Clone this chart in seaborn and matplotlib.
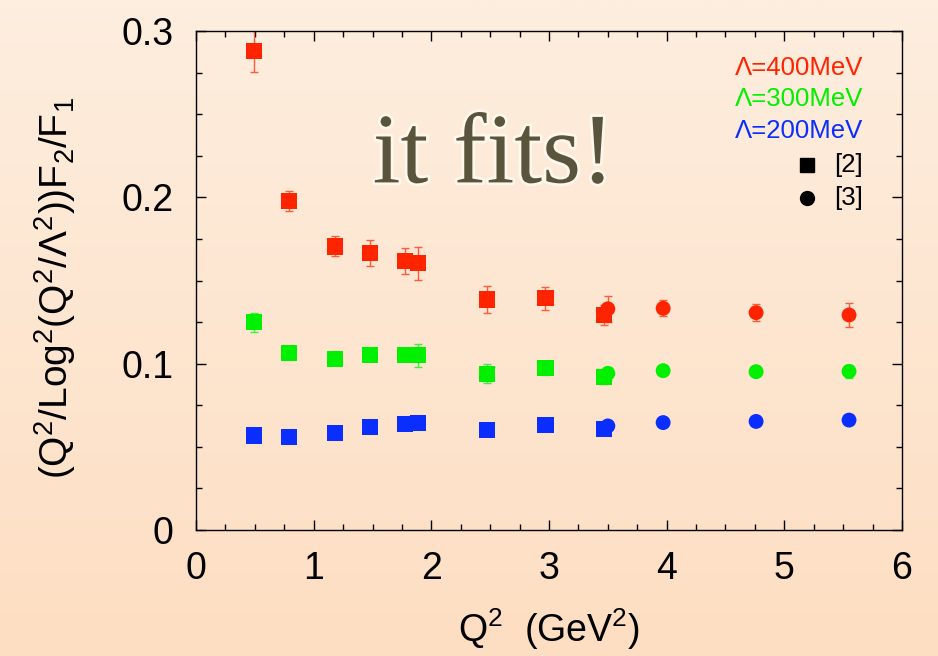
import numpy as np
import pandas as pd
import matplotlib
matplotlib.use('Agg')
import matplotlib.pyplot as plt
import matplotlib.patheffects as pe
import seaborn as sns
from matplotlib.colors import LinearSegmentedColormap

# ── Data ──────────────────────────────────────────────────────────
q2_sq = [0.49, 0.79, 1.18, 1.48, 1.775, 1.885, 2.47, 2.97, 3.47]
q2_ci = [3.50, 3.97, 4.76, 5.55]

r400_sq = [0.288, 0.198, 0.1705, 0.1665, 0.1617, 0.1604, 0.1386, 0.1393, 0.1295]
e400_sq = [0.0125, 0.006, 0.006, 0.008, 0.0077, 0.010, 0.008, 0.007, 0.006]
r400_ci = [0.133, 0.1333, 0.1307, 0.1293]
e400_ci = [0.008, 0.0048, 0.005, 0.0071]

r300_sq = [0.1249, 0.1066, 0.1026, 0.105, 0.105, 0.105, 0.094, 0.0972, 0.0918]
e300_sq = [0.0057, 0.002, 0.002, 0.002, 0.003, 0.0067, 0.0057, 0.004, 0.004]
r300_ci = [0.0942, 0.0958, 0.0952, 0.0954]
e300_ci = [0.004, 0.002, 0.002, 0.004]

r200_sq = [0.0568, 0.056, 0.0584, 0.062, 0.0639, 0.0645, 0.0602, 0.0633, 0.0608]
e200_sq = [0.001] * 9
r200_ci = [0.0626, 0.0646, 0.0653, 0.0661]
e200_ci = [0.001] * 4

lam_labels = ['Λ=400MeV', 'Λ=300MeV', 'Λ=200MeV']
colors = {'Λ=400MeV': '#FF2400', 'Λ=300MeV': '#00F000', 'Λ=200MeV': '#0A2EFF'}
err_colors = {'Λ=400MeV': '#FF5A3A', 'Λ=300MeV': '#3CF03C', 'Λ=200MeV': '#3A5AFF'}

rows = []
for lam, ys, es, yc, ec in [
        ('Λ=400MeV', r400_sq, e400_sq, r400_ci, e400_ci),
        ('Λ=300MeV', r300_sq, e300_sq, r300_ci, e300_ci),
        ('Λ=200MeV', r200_sq, e200_sq, r200_ci, e200_ci)]:
    for x, y, e in zip(q2_sq, ys, es):
        rows.append((lam, '[2]', x, y, e))
    for x, y, e in zip(q2_ci, yc, ec):
        rows.append((lam, '[3]', x, y, e))
df = pd.DataFrame(rows, columns=['lam', 'ref', 'q2', 'ratio', 'err'])

# ── Style ─────────────────────────────────────────────────────────
sns.set_theme(style='ticks')
plt.rcParams['font.family'] = ['Liberation Sans', 'DejaVu Sans']
plt.rcParams['mathtext.fontset'] = 'custom'
plt.rcParams['mathtext.rm'] = 'Liberation Sans'
for k in ['text.color', 'axes.labelcolor', 'xtick.color', 'ytick.color']:
    plt.rcParams[k] = 'black'

fig = plt.figure(figsize=(9.38, 6.56), dpi=100)

# background gradient
bg = fig.add_axes([0, 0, 1, 1], zorder=-10)
cmap = LinearSegmentedColormap.from_list('peach', ['#FEEEDF', '#FDDEC2'])
bg.imshow(np.linspace(0, 1, 256).reshape(-1, 1), aspect='auto', cmap=cmap,
          extent=[0, 1, 0, 1], origin='upper')
bg.set_axis_off()

ax = fig.add_axes([0.209, 0.192, 0.7526, 0.7607])
ax.set_facecolor('none')

# error bars
for lam in lam_labels:
    d = df[df['lam'] == lam]
    ax.errorbar(d['q2'], d['ratio'], yerr=d['err'], fmt='none',
                ecolor=err_colors[lam], elinewidth=1.0, capsize=3.2,
                capthick=1.0, zorder=2)

sns.scatterplot(data=df[df['ref'] == '[2]'], x='q2', y='ratio', hue='lam',
                palette=colors, marker='s', s=135, linewidth=0,
                legend=False, ax=ax, zorder=3)
sns.scatterplot(data=df[df['ref'] == '[3]'], x='q2', y='ratio', hue='lam',
                palette=colors, marker='o', s=115, linewidth=0,
                legend=False, ax=ax, zorder=3)

ax.set_xlim(0, 6)
ax.set_ylim(0, 0.3)
ax.set_xticks([0, 1, 2, 3, 4, 5, 6])
ax.set_yticks([0, 0.1, 0.2, 0.3])
ax.set_yticklabels(['0', '0.1', '0.2', '0.3'])
ax.set_xticks(np.arange(0, 6.01, 0.25), minor=True)
ax.set_yticks(np.arange(0, 0.301, 0.025), minor=True)
ax.tick_params(which='both', direction='in', top=True, right=True,
               color='black', width=1.0)
ax.tick_params(which='major', length=7, labelsize=27)
ax.tick_params(which='minor', length=4)
ax.tick_params(axis='x', which='major', pad=15)
ax.tick_params(axis='y', which='major', pad=16)
for s in ax.spines.values():
    s.set_color('black')
    s.set_linewidth(1.0)

ax.set_xlabel(r'Q$\mathregular{^2}$  (GeV$\mathregular{^2}$)', fontsize=27,
              labelpad=14)
ax.set_ylabel(r'(Q$\mathregular{^2}$/Log$\mathregular{^2}$(Q$\mathregular{^2}$/Λ$\mathregular{^2}$))F$\mathregular{_2}$/F$\mathregular{_1}$',
              fontsize=28)
ax.yaxis.set_label_coords(-0.167, 0.485)

# in-plot legend
for lam, yy in zip(lam_labels, [0.278, 0.259, 0.240]):
    ax.text(5.67, yy, lam, color=colors[lam], fontsize=18.5, ha='right',
            va='center')
ax.plot([5.19], [0.2195], marker='s', color='black', ms=10, ls='none')
ax.plot([5.19], [0.1995], marker='o', color='black', ms=10, ls='none')
ax.text(5.67, 0.2195, '[2]', fontsize=18.5, ha='right', va='center')
ax.text(5.67, 0.1995, '[3]', fontsize=18.5, ha='right', va='center')

ax.text(2.53, 0.209, 'it fits!', fontsize=72, family='Liberation Serif',
        color='#58553C', ha='center', va='baseline',
        path_effects=[pe.withStroke(linewidth=4, foreground='#FFF6EC')])

fig.savefig('out.png', dpi=100)
